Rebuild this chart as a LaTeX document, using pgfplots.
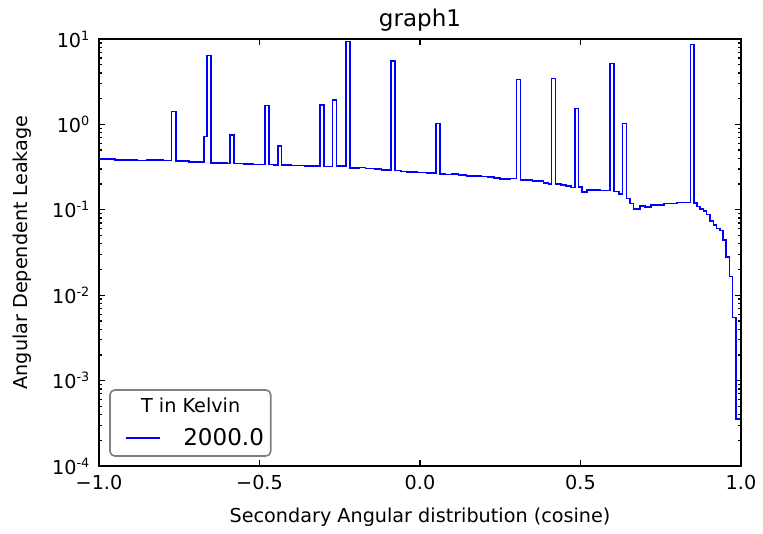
\documentclass[border=0pt]{standalone}
\usepackage{pgfplots}
\pgfplotsset{compat=1.18}
\usepackage{fontspec}
\setmainfont{DejaVu Sans}
\pgfplotstableread{
x y
-1.000 0.395
-0.950 0.385
-0.880 0.378
-0.850 0.382
-0.800 0.376
-0.774 1.41
-0.761 0.372
-0.720 0.365
-0.700 0.360
-0.673 0.72
-0.664 6.4
-0.651 0.356
-0.620 0.352
-0.600 0.348
-0.592 0.75
-0.580 0.350
-0.550 0.345
-0.520 0.338
-0.482 1.67
-0.470 0.340
-0.455 0.333
-0.443 0.56
-0.431 0.335
-0.400 0.330
-0.360 0.328
-0.330 0.325
-0.312 1.70
-0.299 0.322
-0.272 1.93
-0.260 0.325
-0.231 9.3
-0.218 0.310
-0.190 0.312
-0.170 0.306
-0.140 0.300
-0.120 0.293
-0.091 5.57
-0.078 0.287
-0.060 0.282
-0.040 0.276
-0.010 0.272
0.020 0.270
0.049 1.02
0.062 0.262
0.080 0.258
0.100 0.262
0.120 0.257
0.145 0.248
0.170 0.250
0.190 0.246
0.210 0.242
0.230 0.236
0.250 0.230
0.280 0.232
0.301 3.37
0.313 0.225
0.330 0.222
0.350 0.216
0.370 0.218
0.385 0.205
0.400 0.200
0.410 3.43
0.422 0.200
0.440 0.195
0.455 0.190
0.470 0.183
0.482 1.54
0.494 0.185
0.505 0.162
0.520 0.170
0.560 0.168
0.592 5.14
0.604 0.163
0.620 0.152
0.631 1.02
0.643 0.136
0.655 0.118
0.665 0.103
0.685 0.110
0.700 0.107
0.720 0.113
0.760 0.118
0.800 0.122
0.843 8.58
0.854 0.120
0.862 0.109
0.872 0.103
0.883 0.097
0.893 0.0885
0.903 0.0745
0.914 0.066
0.924 0.0607
0.935 0.057
0.943 0.0443
0.953 0.0282
0.964 0.0165
0.974 0.0055
0.984 0.000355
0.997 0.000355
}\leak
\begin{document}
\begin{tikzpicture}
\useasboundingbox (-61.875pt,-42.5pt) rectangle (415pt,291.25pt);
\begin{axis}[
  scale only axis, width=401.25pt, height=266.875pt,
  at={(0,0)}, anchor=south west,
  xmin=-1, xmax=1, ymin=1e-4, ymax=10, ymode=log,
  xtick={-1,-0.5,0,0.5,1},
  xticklabels={−1.0,−0.5,0.0,0.5,1.0},
  ytick={1e-4,1e-3,1e-2,1e-1,1,10},
  yticklabels={10\textsuperscript{-4},10\textsuperscript{-3},10\textsuperscript{-2},10\textsuperscript{-1},10\textsuperscript{0},10\textsuperscript{1}},
  minor ytick={2e-4,3e-4,4e-4,5e-4,6e-4,7e-4,8e-4,9e-4,2e-3,3e-3,4e-3,5e-3,6e-3,7e-3,8e-3,9e-3,2e-2,3e-2,4e-2,5e-2,6e-2,7e-2,8e-2,9e-2,0.2,0.3,0.4,0.5,0.6,0.7,0.8,0.9,2,3,4,5,6,7,8,9},
  tick align=inside, tick pos=both,
  major tick length=4pt, minor tick length=2pt,
  every tick/.style={black, line width=0.8pt},
  axis line style={line width=1pt},
  ticklabel style={font=\fontsize{12}{14}\selectfont},
  xticklabel style={yshift=-2.5pt},
  yticklabel style={xshift=-2pt},
  xlabel={Secondary Angular distribution (cosine)},
  ylabel={Angular Dependent Leakage},
  every axis x label/.style={at={(axis description cs:0.5,-0.1194)}, anchor=center, font=\fontsize{12}{14}\selectfont},
  every axis y label/.style={at={(axis description cs:-0.12,0.5)}, anchor=center, rotate=90, font=\fontsize{12}{14}\selectfont},
  title={graph1},
  every axis title/.style={at={(axis description cs:0.5,1.0445)}, anchor=center, font=\fontsize{14.4}{17}\selectfont},
  legend image code/.code={\draw[#1] (0pt,0pt) -- (21.25pt,0pt);},
  legend style={draw=none, fill=none, at={(axis description cs:0.0405,0.0649)}, anchor=west,
    inner sep=0pt, nodes={inner sep=0pt}, column sep=14pt, font=\fontsize{14.4}{17}\selectfont},
]
\draw[rounded corners=3pt, draw=gray, line width=1pt, fill=white] (axis description cs:0.0171,0.0234) rectangle (axis description cs:0.2675,0.178);
\node[font=\fontsize{12}{14}\selectfont] at (axis description cs:0.1428,0.1429) {T in Kelvin};
\addplot[const plot mark left, blue, line width=1pt, no marks] table[x=x,y=y] {\leak};
\addlegendentry{2000.0}
\end{axis}
\end{tikzpicture}
\end{document}
